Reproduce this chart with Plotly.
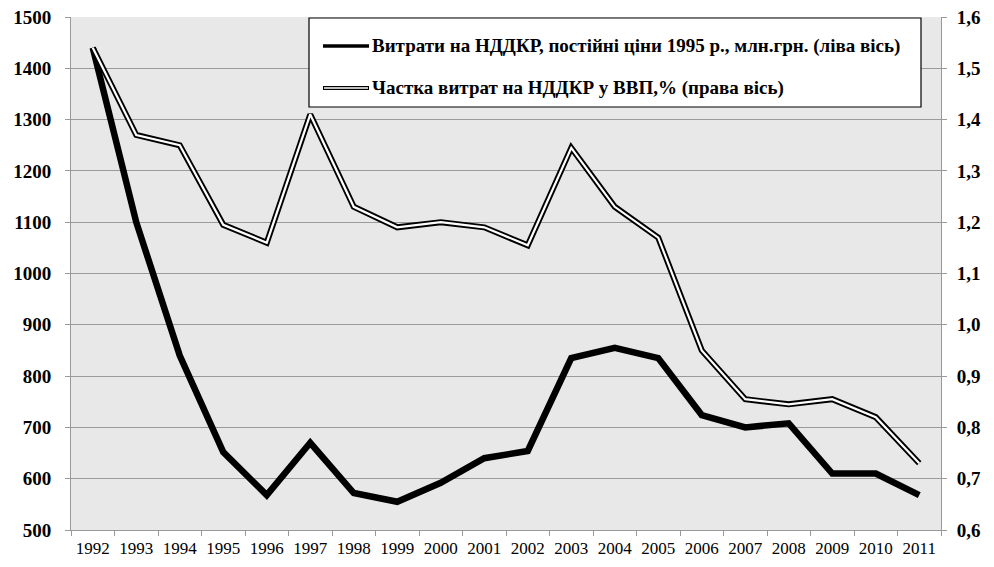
import plotly.graph_objects as go

years = [str(y) for y in range(1992, 2012)]
rd_spend = [1440, 1100, 840, 652, 568, 670, 572, 555, 592, 640, 654, 835, 855, 835, 724, 700, 708, 610, 610, 568]
rd_share = [1.54, 1.37, 1.35, 1.195, 1.16, 1.41, 1.23, 1.19, 1.20, 1.19, 1.155, 1.345, 1.23, 1.17, 0.95, 0.855, 0.845, 0.855, 0.82, 0.73]

left_ticks = list(range(500, 1501, 100))
right_ticks = [0.6, 0.7, 0.8, 0.9, 1.0, 1.1, 1.2, 1.3, 1.4, 1.5, 1.6]
right_labels = [f"{v:.1f}".replace(".", ",") for v in right_ticks]

legend_names = ["Витрати на НДДКР, постійні ціни 1995 р., млн.грн. (ліва вісь)",
                "Частка витрат на НДДКР у ВВП,% (права вісь)"]

OFF = 8  # body margin of the page
W, H = 994 - 2 * OFF, 567 - 2 * OFF
ml, mt = 71 - OFF, 17 - OFF
pw, ph = 870, 513
mr = W - ml - pw
mb = H - mt - ph

def px(x):
    return (x - OFF - ml) / pw

def py(y):
    return (mt + ph - (y - OFF)) / ph

fig = go.Figure()
fig.add_trace(go.Scatter(x=years, y=rd_share, yaxis="y2", mode="lines",
                         line=dict(color="black", width=6), showlegend=False, hoverinfo="skip"))
fig.add_trace(go.Scatter(x=years, y=rd_share, yaxis="y2", mode="lines",
                         line=dict(color="white", width=2.2), showlegend=False))
fig.add_trace(go.Scatter(x=years, y=rd_spend, mode="lines",
                         line=dict(color="black", width=6.5), showlegend=False))

serif = "Liberation Serif"

fig.update_layout(
    width=W, height=H,
    margin=dict(l=ml, r=mr, t=mt, b=mb, pad=0, autoexpand=False),
    paper_bgcolor="white",
    plot_bgcolor="#e8e8e8",
    font=dict(family=serif, color="black"),
    xaxis=dict(type="category", tickson="boundaries", ticks="outside", ticklen=5,
               tickcolor="#999", showline=True, linecolor="#999", showgrid=False,
               automargin=False, ticklabelstandoff=3, ticklabeloverflow="allow",
               tickfont=dict(size=17, family=serif, color="black"), range=[-0.5, 19.5]),
    yaxis=dict(range=[500, 1500], tickvals=left_ticks, ticks="outside", ticklen=5,
               tickcolor="#999", showline=True, linecolor="#999", gridcolor="#9a9a9a",
               gridwidth=1, zeroline=False, automargin=False,
               ticklabelstandoff=10, ticklabeloverflow="allow",
               tickfont=dict(size=19, family=serif, color="black", weight="bold")),
    yaxis2=dict(range=[0.6, 1.6], overlaying="y", side="right", tickvals=right_ticks,
                ticktext=right_labels, ticks="outside", ticklen=5, tickcolor="#999",
                showline=True, linecolor="#999", showgrid=False, zeroline=False,
                automargin=False, ticklabelstandoff=6, ticklabeloverflow="allow",
                tickfont=dict(size=19, family=serif, color="black", weight="bold")),
)

# manual legend box
fig.add_shape(type="rect", xref="paper", yref="paper",
              x0=px(309), x1=px(921), y0=py(107), y1=py(18),
              fillcolor="white", line=dict(color="black", width=1.2), layer="above")
fig.add_shape(type="line", xref="paper", yref="paper",
              x0=px(323), x1=px(369), y0=py(46), y1=py(46),
              line=dict(color="black", width=3.5), layer="above")
fig.add_shape(type="line", xref="paper", yref="paper",
              x0=px(323), x1=px(369), y0=py(88), y1=py(88),
              line=dict(color="black", width=4), layer="above")
fig.add_shape(type="line", xref="paper", yref="paper",
              x0=px(324), x1=px(368), y0=py(88), y1=py(88),
              line=dict(color="white", width=1.5), layer="above")
for name, yy in zip(legend_names, [46, 88]):
    fig.add_annotation(xref="paper", yref="paper", x=px(370), y=py(yy), text=name,
                       showarrow=False, xanchor="left", yanchor="middle",
                       font=dict(size=19, family=serif, color="black", weight="bold"))

fig.write_html("out.html")
